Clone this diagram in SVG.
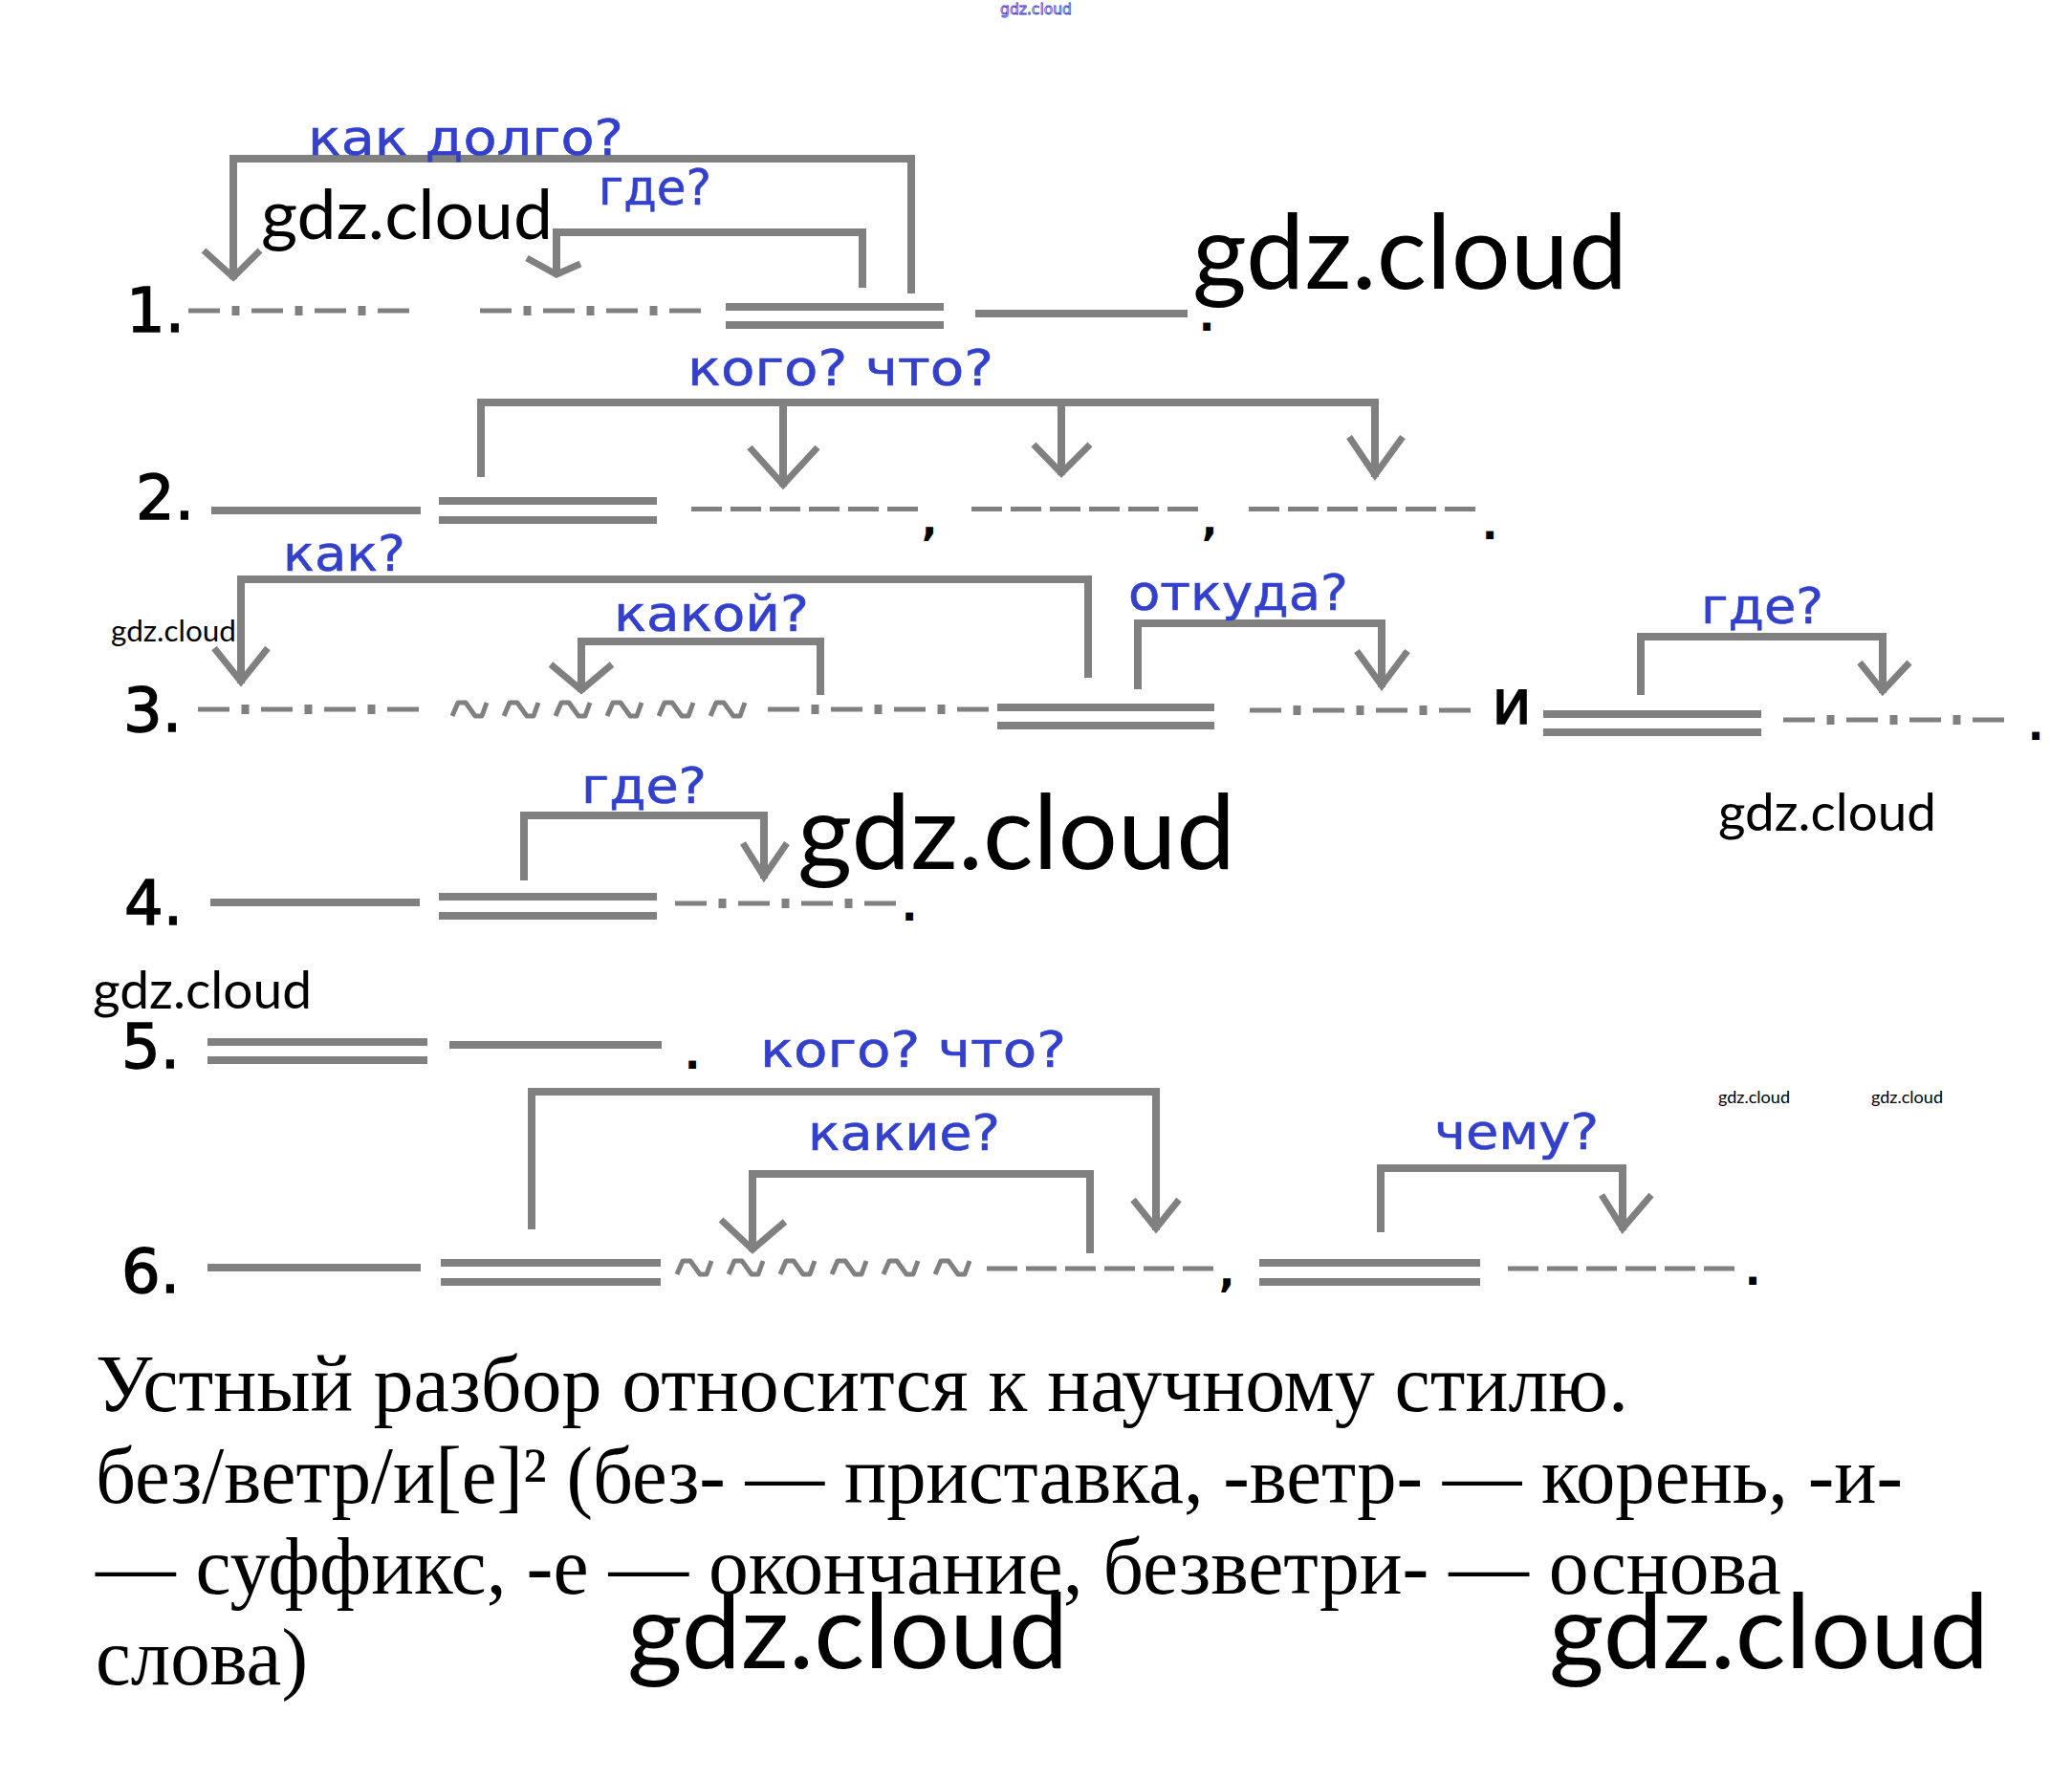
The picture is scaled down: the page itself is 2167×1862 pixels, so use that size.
<svg xmlns="http://www.w3.org/2000/svg" width="2167" height="1862" viewBox="0 0 2167 1862">
<style>
.bar{fill:#808080}
.dash{stroke:#808080;stroke-width:5;stroke-dasharray:32 9;fill:none}
.dd{stroke:#808080;stroke-width:5;stroke-dasharray:33 33;fill:none}
.dot{stroke:#808080;stroke-width:10;stroke-dasharray:0 45.5 8 12.5;fill:none}
.wave{stroke:#808080;stroke-width:5;fill:none;stroke-linejoin:round}
.br{stroke:#808080;stroke-width:8;fill:none;stroke-linejoin:miter;stroke-linecap:square}
.ah{stroke:#808080;stroke-width:7;fill:none;stroke-linejoin:miter}
.q{font-family:"DejaVu Sans",Verdana,sans-serif;font-size:52px;fill:#3340cc;stroke:#3340cc;stroke-width:0.6}
.num{font-family:"DejaVu Sans",sans-serif;font-size:64px;fill:#000;stroke:#000;stroke-width:1.5;text-anchor:end}
.p{font-family:"DejaVu Sans",sans-serif;font-size:44px;font-weight:bold;fill:#000;text-anchor:middle}
.wm{font-family:Lato,"Open Sans",sans-serif;fill:#000}
.txt{font-family:"Liberation Serif","Times New Roman",serif;font-size:84px;fill:#000}
</style>
<defs>
<path id="wave" class="wave" d="M0 0 L6 -14 L14 -14 L24 0 L31 0 L36 -14 M54 0 L60 -14 L68 -14 L78 0 L85 0 L90 -14 M108 0 L114 -14 L122 -14 L132 0 L139 0 L144 -14 M162 0 L168 -14 L176 -14 L186 0 L193 0 L198 -14 M216 0 L222 -14 L230 -14 L240 0 L247 0 L252 -14 M270 0 L276 -14 L284 -14 L294 0 L301 0 L306 -14"/>
</defs>
<rect width="2167" height="1862" fill="#fff"/>

<text x="1046" y="15" font-family="DejaVu Sans, sans-serif" font-size="16" fill="none" stroke="#4040cc" stroke-width="0.8" textLength="75" lengthAdjust="spacingAndGlyphs">gdz.cloud</text>

<!-- Sentence 1 -->
<g id="row1">
<text class="num" x="193" y="347">1.</text>
<g id="r1-adv1"><path class="dd" d="M197 325H428"/><path class="dot" d="M197 325H428"/></g>
<g id="r1-adv2"><path class="dd" d="M502 325H733"/><path class="dot" d="M502 325H733"/></g>
<g id="r1-pred"><rect class="bar" x="759" y="317" width="228" height="8"/><rect class="bar" x="759" y="336" width="228" height="8"/></g>
<g id="r1-subj"><rect class="bar" x="1020" y="324" width="222" height="8"/></g>
<text class="p" x="1262" y="346">.</text>
</g>

<!-- Sentence 2 -->
<g id="row2">
<text class="num" x="203" y="543">2.</text>
<g id="r2-subj"><rect class="bar" x="221" y="530" width="219" height="8"/></g>
<g id="r2-pred"><rect class="bar" x="459" y="520" width="228" height="8"/><rect class="bar" x="459" y="540" width="228" height="8"/></g>
<g id="r2-obj1"><path class="dash" d="M723 532.5H960"/></g>
<text class="p" x="972" y="560">,</text>
<g id="r2-obj2"><path class="dash" d="M1016 532.5H1253"/></g>
<text class="p" x="1265" y="560">,</text>
<g id="r2-obj3"><path class="dash" d="M1306 532.5H1543"/></g>
<text class="p" x="1558" y="564">.</text>
</g>

<!-- Sentence 3 -->
<g id="row3">
<text class="num" x="190" y="765">3.</text>
<g id="r3-adv1"><path class="dd" d="M207 742H438"/><path class="dot" d="M207 742H438"/></g>
<g id="r3-attr"><use href="#wave" x="473" y="749"/></g>
<g id="r3-adv2"><path class="dd" d="M803 742H1034"/><path class="dot" d="M803 742H1034"/></g>
<g id="r3-pred1"><rect class="bar" x="1043" y="736" width="227" height="8"/><rect class="bar" x="1043" y="755" width="227" height="8"/></g>
<g id="r3-adv3"><path class="dd" d="M1307 743H1538"/><path class="dot" d="M1307 743H1538"/></g>
<text x="1581" y="757" font-family="DejaVu Sans, sans-serif" font-size="64" fill="#000" stroke="#000" stroke-width="1.5" text-anchor="middle">и</text>
<g id="r3-pred2"><rect class="bar" x="1614" y="743" width="228" height="8"/><rect class="bar" x="1614" y="762" width="228" height="8"/></g>
<g id="r3-adv4"><path class="dd" d="M1865 753H2096"/><path class="dot" d="M1865 753H2096"/></g>
<text class="p" x="2129" y="774">.</text>
</g>

<!-- Sentence 4 -->
<g id="row4">
<text class="num" x="191" y="967">4.</text>
<g id="r4-subj"><rect class="bar" x="220" y="940" width="219" height="8"/></g>
<g id="r4-pred"><rect class="bar" x="459" y="934" width="228" height="8"/><rect class="bar" x="459" y="954" width="228" height="8"/></g>
<g id="r4-adv"><path class="dd" d="M706 945H937"/><path class="dot" d="M706 945H937"/></g>
<text class="p" x="951" y="963">.</text>
</g>

<!-- Sentence 5 -->
<g id="row5">
<text class="num" x="188" y="1117">5.</text>
<g id="r5-pred"><rect class="bar" x="217" y="1086" width="230" height="8"/><rect class="bar" x="217" y="1105" width="230" height="8"/></g>
<g id="r5-subj"><rect class="bar" x="470" y="1089" width="222" height="8"/></g>
<text class="p" x="724" y="1118">.</text>
</g>

<!-- Sentence 6 -->
<g id="row6">
<text class="num" x="188" y="1352">6.</text>
<g id="r6-subj"><rect class="bar" x="217" y="1322" width="223" height="8"/></g>
<g id="r6-pred1"><rect class="bar" x="461" y="1317" width="230" height="8"/><rect class="bar" x="461" y="1337" width="230" height="8"/></g>
<g id="r6-attr"><use href="#wave" x="708" y="1333"/></g>
<g id="r6-obj"><path class="dash" d="M1032 1327H1269"/></g>
<text class="p" x="1283" y="1346">,</text>
<g id="r6-pred2"><rect class="bar" x="1317" y="1317" width="231" height="8"/><rect class="bar" x="1317" y="1337" width="231" height="8"/></g>
<g id="r6-obj2"><path class="dash" d="M1577 1327H1814"/></g>
<text class="p" x="1833" y="1344">.</text>
</g>

<!-- Connectors -->
<g id="connectors">
<g id="c1"><path class="br" d="M244 288V166H953V303"/><path class="ah" d="M213 262L244 290L272 262"/>
<text class="q" x="322" y="162" textLength="330" lengthAdjust="spacingAndGlyphs">как долго?</text></g>
<g id="c2"><path class="br" d="M582 285V243H902V297"/><path class="ah" d="M551 270L582 287L607 276"/>
<text class="q" x="626" y="214" textLength="118" lengthAdjust="spacingAndGlyphs">где?</text></g>
<g id="c3"><path class="br" d="M503 495V421H1438V495M819 421V505M1110 421V493"/>
<path class="ah" d="M784 468L819 507L855 468M1081 465L1110 495L1140 465M1411 457L1438 497L1467 457"/>
<text class="q" x="719" y="403" textLength="320" lengthAdjust="spacingAndGlyphs">кого? что?</text></g>
<g id="c4"><path class="br" d="M252 711V606H1138V705"/><path class="ah" d="M224 678L252 713L280 678"/>
<text class="q" x="296" y="597" textLength="128" lengthAdjust="spacingAndGlyphs">как?</text></g>
<g id="c5"><path class="br" d="M608 720V671H858V723"/><path class="ah" d="M576 695L608 722L640 695"/>
<text class="q" x="642" y="660" textLength="204" lengthAdjust="spacingAndGlyphs">какой?</text></g>
<g id="c6"><path class="br" d="M1190 717V652H1445V715"/><path class="ah" d="M1419 681L1445 717L1472 681"/>
<text class="q" x="1180" y="638" textLength="230" lengthAdjust="spacingAndGlyphs">откуда?</text></g>
<g id="c7"><path class="br" d="M1716 723V666H1969V721"/><path class="ah" d="M1945 693L1969 723L1997 693"/>
<text class="q" x="1779" y="652" textLength="128" lengthAdjust="spacingAndGlyphs">где?</text></g>
<g id="c8"><path class="br" d="M548 917V853H799V915"/><path class="ah" d="M777 882L799 917L823 882"/>
<text class="q" x="608" y="840" textLength="131" lengthAdjust="spacingAndGlyphs">где?</text></g>
<g id="c9"><path class="br" d="M556 1282V1142H1209V1283"/><path class="ah" d="M1185 1255L1209 1285L1233 1255"/>
<text class="q" x="795" y="1116" textLength="320" lengthAdjust="spacingAndGlyphs">кого? что?</text></g>
<g id="c10"><path class="br" d="M787 1305V1228H1140V1307"/><path class="ah" d="M754 1276L787 1307L821 1278"/>
<text class="q" x="845" y="1203" textLength="201" lengthAdjust="spacingAndGlyphs">какие?</text></g>
<g id="c11"><path class="br" d="M1444 1285V1222H1697V1283"/><path class="ah" d="M1675 1250L1697 1285L1727 1250"/>
<text class="q" x="1500" y="1202" textLength="172" lengthAdjust="spacingAndGlyphs">чему?</text></g>
</g>

<!-- Watermarks -->
<g id="watermarks">
<text class="wm" x="1247" y="302" font-size="108" textLength="455" lengthAdjust="spacingAndGlyphs">gdz.cloud</text>
<text class="wm" x="273" y="250" font-size="72" textLength="305" lengthAdjust="spacingAndGlyphs">gdz.cloud</text>
<text class="wm" x="116" y="671" font-size="31" textLength="131" lengthAdjust="spacingAndGlyphs">gdz.cloud</text>
<text class="wm" x="834" y="909" font-size="108" textLength="458" lengthAdjust="spacingAndGlyphs">gdz.cloud</text>
<text class="wm" x="1797" y="869" font-size="54" textLength="228" lengthAdjust="spacingAndGlyphs">gdz.cloud</text>
<text class="wm" x="97" y="1055" font-size="54" textLength="229" lengthAdjust="spacingAndGlyphs">gdz.cloud</text>
<text class="wm" x="1797" y="1154" font-size="18" textLength="75" lengthAdjust="spacingAndGlyphs">gdz.cloud</text>
<text class="wm" x="1957" y="1154" font-size="18" textLength="75" lengthAdjust="spacingAndGlyphs">gdz.cloud</text>
</g>

<!-- Bottom text -->
<g id="analysis">
<text class="txt" x="100" y="1476" textLength="1603" lengthAdjust="spacingAndGlyphs">Устный разбор относится к научному стилю.</text>
<text class="txt" x="100" y="1572" textLength="1890" lengthAdjust="spacingAndGlyphs">без/ветр/и[е]² (без- — приставка, -ветр- — корень, -и-</text>
<text class="txt" x="100" y="1667" textLength="1763" lengthAdjust="spacingAndGlyphs">— суффикс, -е — окончание, безветри- — основа</text>
<text class="txt" x="100" y="1762" textLength="222" lengthAdjust="spacingAndGlyphs">слова)</text>
</g>

<g id="watermarks-bottom">
<text class="wm" x="656" y="1745" font-size="108" textLength="461" lengthAdjust="spacingAndGlyphs">gdz.cloud</text>
<text class="wm" x="1620" y="1745" font-size="108" textLength="460" lengthAdjust="spacingAndGlyphs">gdz.cloud</text>
</g>
</svg>
